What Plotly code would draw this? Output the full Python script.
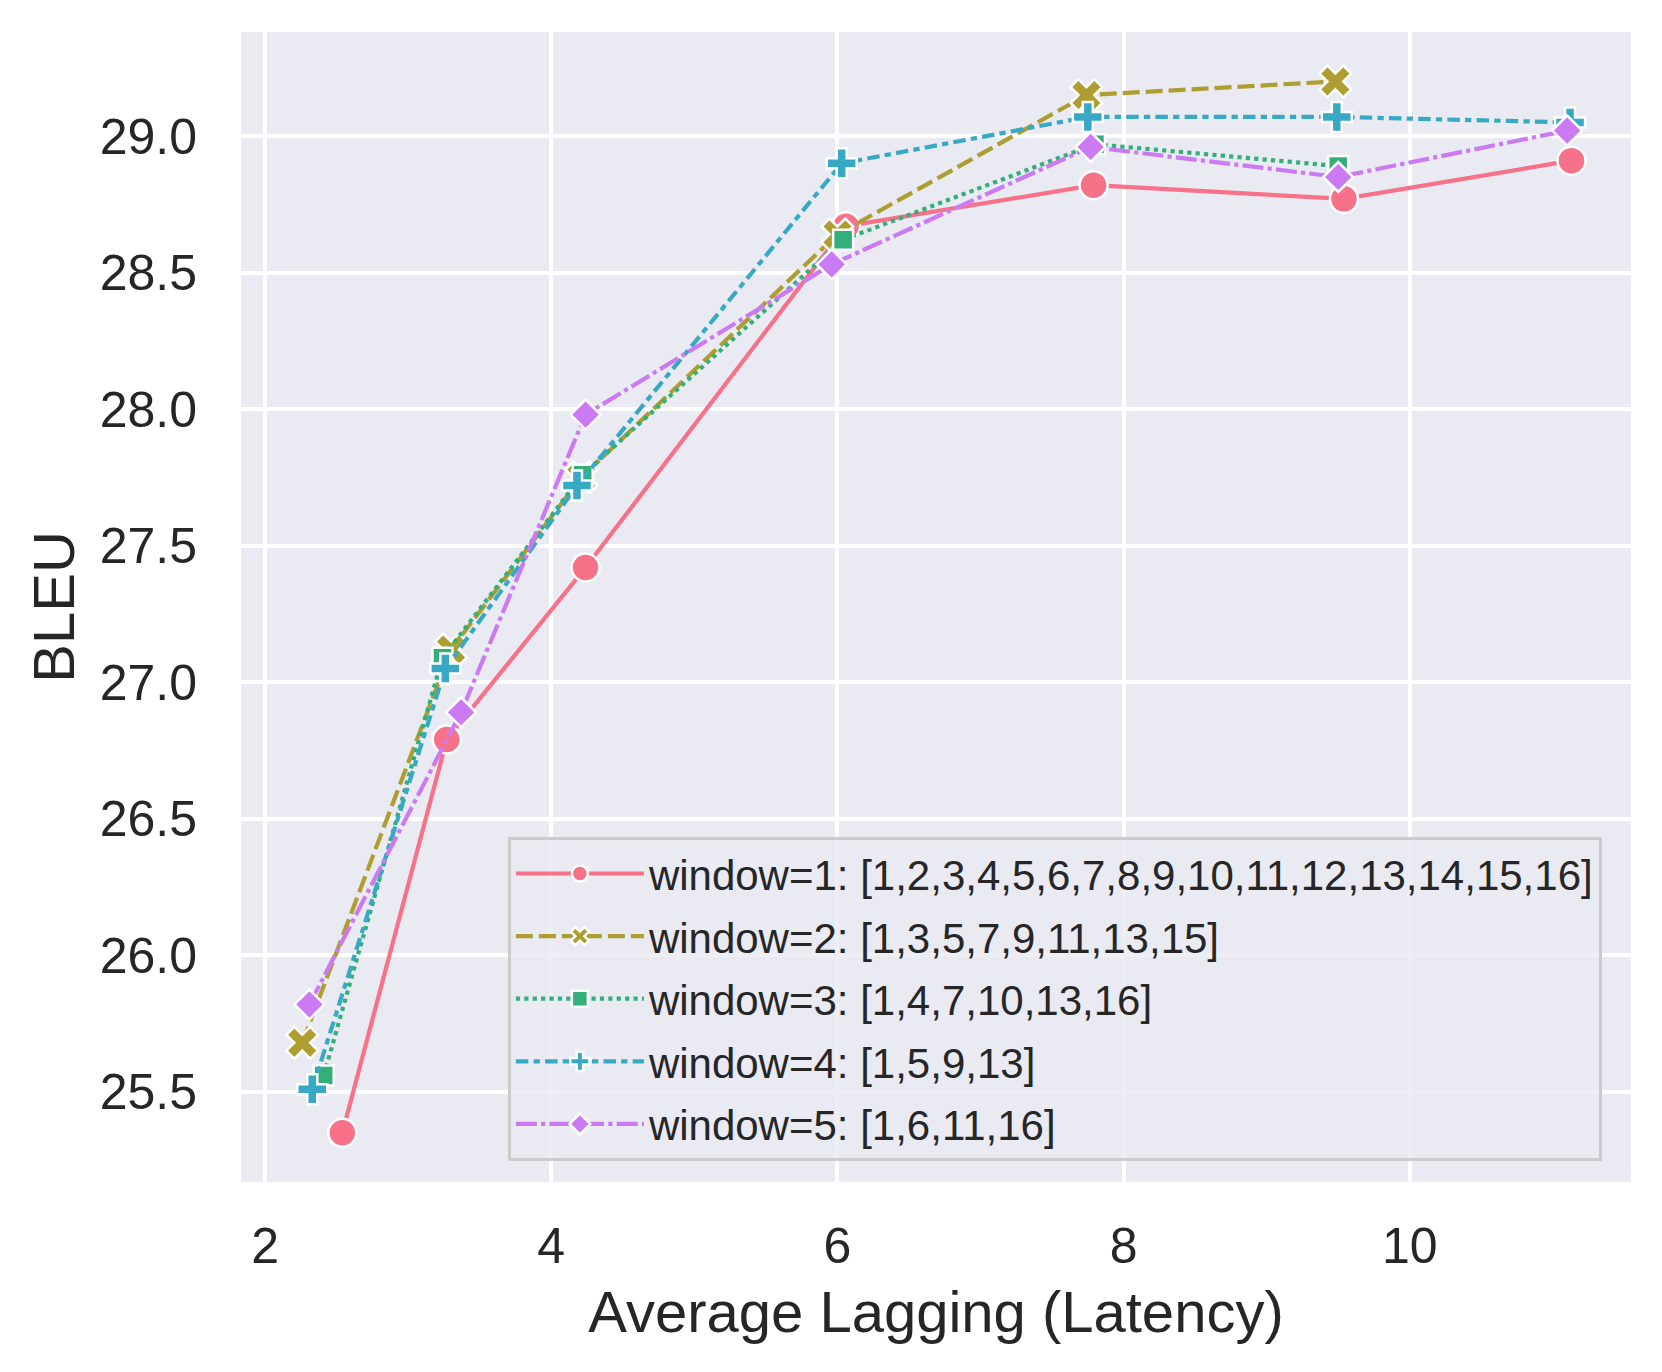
import plotly.graph_objects as go

# ---- data ----
labels = [
    "window=1: [1,2,3,4,5,6,7,8,9,10,11,12,13,14,15,16]",
    "window=2: [1,3,5,7,9,11,13,15]",
    "window=3: [1,4,7,10,13,16]",
    "window=4: [1,5,9,13]",
    "window=5: [1,6,11,16]",
]
x_w1 = [2.54, 3.27, 4.24, 6.06, 7.79, 9.54, 11.13]
y_w1 = [25.35, 26.79, 27.42, 28.67, 28.82, 28.77, 28.91]
x_w2 = [2.26, 3.30, 4.21, 6.00, 7.74, 9.48]
y_w2 = [25.68, 27.12, 27.75, 28.64, 29.15, 29.20]
x_w3 = [2.41, 3.24, 4.22, 6.04, 7.80, 9.50]
y_w3 = [25.56, 27.09, 27.76, 28.62, 28.97, 28.89]
x_w4 = [2.33, 3.26, 4.18, 6.03, 7.75, 9.49, 11.12]
y_w4 = [25.51, 27.05, 27.72, 28.90, 29.07, 29.07, 29.05]
x_w5 = [2.31, 3.37, 4.24, 5.96, 7.77, 9.50, 11.10]
y_w5 = [25.82, 26.89, 27.98, 28.53, 28.96, 28.85, 29.02]

x_ticks = [2, 4, 6, 8, 10]
y_ticks = [25.5, 26.0, 26.5, 27.0, 27.5, 28.0, 28.5, 29.0]

xs = [x_w1, x_w2, x_w3, x_w4, x_w5]
ys = [y_w1, y_w2, y_w3, y_w4, y_w5]

# ---- styles ----
colors = ["#f77189", "#ae9d31", "#33b07a", "#38a9c5", "#cc7af4"]
symbols = ["circle", "x", "square", "cross", "diamond"]
msizes = [28, 28, 20, 25, 23]
LW = 4.2
dashes = ["solid", "17px,6px", "4.2px,4.2px", "12.5px,5.2px,6.3px,5.2px", "21px,4.2px,4.2px,4.2px"]
FONT = "Liberation Sans, Arial, sans-serif"
TXT = "#262626"

fig = go.Figure()
for i in range(5):
    fig.add_trace(go.Scatter(
        x=xs[i], y=ys[i], mode="lines+markers", name=labels[i],
        legendgroup=f"g{i}",
        line=dict(color=colors[i], width=LW, dash=dashes[i]),
        marker=dict(symbol=symbols[i], size=msizes[i], color=colors[i],
                    line=dict(color="white", width=2.5)),
    ))

fig.update_layout(
    width=1654, height=1364,
    margin=dict(l=233, r=31, t=24, b=190, autoexpand=False),
    paper_bgcolor="white", plot_bgcolor="#eaeaf2",
    font=dict(family=FONT, color=TXT, size=50),
    showlegend=True,
    legend=dict(
        x=0.192, y=0.0185, xanchor="left", yanchor="bottom",
        bgcolor="rgba(234,234,242,0.8)", bordercolor="#cccccc", borderwidth=3,
        font=dict(family=FONT, size=42, color=TXT),
        itemwidth=128, tracegroupgap=5,
    ),
    xaxis=dict(
        range=[1.832, 11.546], tickvals=x_ticks, ticktext=[str(v) for v in x_ticks],
        showgrid=True, gridcolor="white", gridwidth=3.8, zeroline=False,
        showline=False, ticks="outside", ticklen=20, tickcolor="rgba(0,0,0,0)",
        tickfont=dict(size=50, family=FONT, color=TXT),
        title=dict(text="Average Lagging (Latency)", font=dict(size=58, family=FONT, color=TXT), standoff=18),
        automargin=False,
    ),
    yaxis=dict(
        range=[25.17, 29.381], tickvals=y_ticks, ticktext=[f"{v:.1f}" for v in y_ticks],
        showgrid=True, gridcolor="white", gridwidth=3.8, zeroline=False,
        showline=False, ticks="outside", ticklen=33, tickcolor="rgba(0,0,0,0)",
        tickfont=dict(size=50, family=FONT, color=TXT),
        title=dict(text="BLEU", font=dict(size=58, family=FONT, color=TXT), standoff=6),
        automargin=False,
    ),
)

fig.write_html("out.html")
